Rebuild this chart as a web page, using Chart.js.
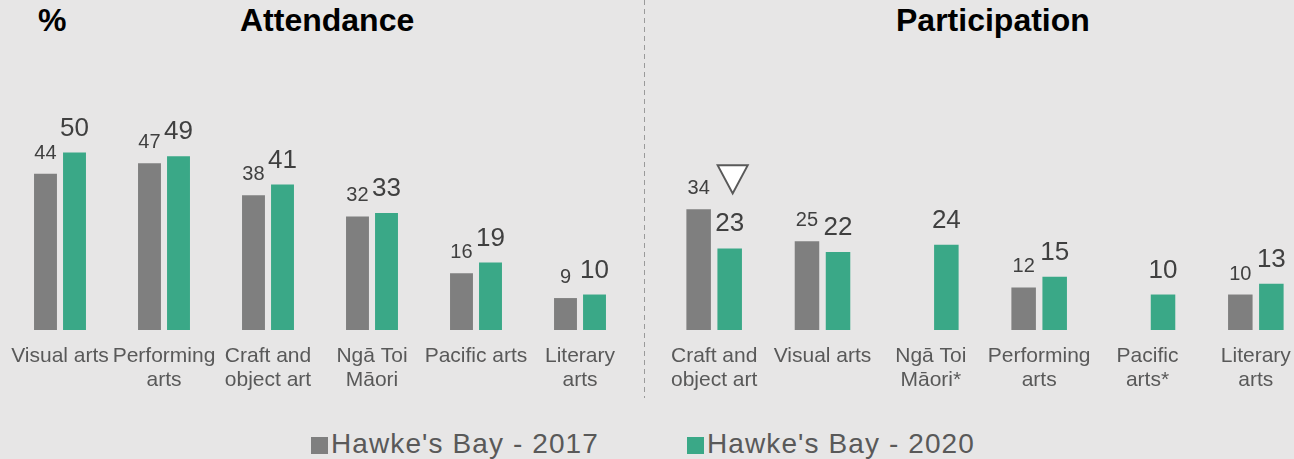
<!DOCTYPE html>
<html>
<head>
<meta charset="utf-8">
<script src="https://cdn.jsdelivr.net/npm/chart.js@4.4.1/dist/chart.umd.min.js"></script>
<style>
  html, body { margin: 0; padding: 0; }
  body { width: 1294px; height: 459px; background: #e7e6e6; position: relative; overflow: hidden;
    font-family: "Liberation Sans", Arial, sans-serif; }
  .title { position: absolute; top: 2px; font-weight: bold; font-size: 32px; color: #000; white-space: nowrap; }
  #c-att { position: absolute; left: 0; top: 0; }
  #c-par { position: absolute; left: 650px; top: 0; }
  .divider { position: absolute; left: 644px; top: 0; width: 1px; height: 398px;
    background: repeating-linear-gradient(to bottom, #9a9a9a 0, #9a9a9a 5px, transparent 5px, transparent 9px); }
  .legend { position: absolute; top: 428px; font-size: 28px; color: #595959; white-space: nowrap; letter-spacing: 1.1px; }
  .legend i { display: inline-block; width: 17px; height: 17px; margin-right: 3px; vertical-align: -1px; }
</style>
</head>
<body>
<div class="title" style="left:38px">%</div>
<div class="title" style="left:240px">Attendance</div>
<div class="title" style="left:896px">Participation</div>
<div class="divider"></div>
<canvas id="c-att" width="645" height="400"></canvas>
<canvas id="c-par" width="662" height="400"></canvas>
<div class="legend" style="left:311px"><i style="background:#7f7f7f"></i>Hawke's Bay - 2017</div>
<div class="legend" style="left:687px"><i style="background:#3aa887"></i>Hawke's Bay - 2020</div>
<script>
(function () {
  "use strict";

  /* ---------- Data ---------- */
  var ATT_LABELS = ["Visual arts", ["Performing", "arts"], ["Craft and", "object art"], ["Ngā Toi", "Māori"], "Pacific arts", ["Literary", "arts"]];
  var ATT_2017 = [44, 47, 38, 32, 16, 9];
  var ATT_2020 = [50, 49, 41, 33, 19, 10];

  var PAR_LABELS = [["Craft and", "object art"], "Visual arts", ["Ngā Toi", "Māori*"], ["Performing", "arts"], ["Pacific", "arts*"], ["Literary", "arts"]];
  var PAR_2017 = [34, 25, null, 12, null, 10];
  var PAR_2020 = [23, 22, 24, 15, 10, 13];
  // significant decrease since 2017
  var PAR_DOWN = [true, false, false, false, false, false];

  var SERIES = ["Hawke's Bay - 2017", "Hawke's Bay - 2020"];
  var GREY = "#7f7f7f", GREEN = "#3aa887", TEXT = "#595959", VALUE = "#404040";
  var FONT = "'Liberation Sans', Arial, sans-serif";

  /* ---------- Value labels above bars ---------- */
  var valueLabels = {
    id: "valueLabels",
    afterDatasetsDraw: function (chart) {
      var ctx = chart.ctx;
      chart.data.datasets.forEach(function (ds, i) {
        var meta = chart.getDatasetMeta(i);
        ctx.save();
        ctx.fillStyle = VALUE;
        ctx.font = (i === 0 ? "20px " : "26px ") + FONT;
        ctx.textAlign = "center";
        ctx.textBaseline = "alphabetic";
        meta.data.forEach(function (bar, j) {
          if (ds.data[j] == null) return;
          ctx.fillText(String(ds.data[j]), bar.x, bar.y - (i === 0 ? 15 : 17));
        });
        ctx.restore();
      });
    }
  };

  /* ---------- Down-triangle markers (participation only) ---------- */
  var downMarks = {
    id: "downMarks",
    afterDatasetsDraw: function (chart, args, opts) {
      if (!opts.flags) return;
      var ctx = chart.ctx;
      var g = chart.getDatasetMeta(0).data, n = chart.getDatasetMeta(1).data;
      opts.flags.forEach(function (on, j) {
        if (!on) return;
        var cx = n[j].x + 3, tip = g[j].y - 16, w = 30, h = 28;
        ctx.save();
        ctx.beginPath();
        ctx.moveTo(cx - w / 2, tip - h);
        ctx.lineTo(cx + w / 2, tip - h);
        ctx.lineTo(cx, tip);
        ctx.closePath();
        ctx.fillStyle = "#ffffff";
        ctx.fill();
        ctx.lineWidth = 2;
        ctx.strokeStyle = TEXT;
        ctx.stroke();
        ctx.restore();
      });
    }
  };

  function makeChart(id, labels, a, b, pad, catPct, flags) {
    return new Chart(document.getElementById(id), {
      type: "bar",
      data: {
        labels: labels,
        datasets: [
          { label: SERIES[0], data: a, backgroundColor: GREY, categoryPercentage: catPct, barPercentage: 0.79 },
          { label: SERIES[1], data: b, backgroundColor: GREEN, categoryPercentage: catPct, barPercentage: 0.79 }
        ]
      },
      options: {
        responsive: false,
        animation: false,
        layout: { padding: { left: pad[0], right: pad[1], top: 0, bottom: 0 } },
        plugins: {
          legend: { display: false },
          tooltip: { enabled: false },
          downMarks: { flags: flags }
        },
        scales: {
          x: {
            grid: { display: false, drawTicks: false },
            border: { display: false },
            ticks: { color: TEXT, padding: 14, autoSkip: false, maxRotation: 0, font: { family: FONT, size: 21, lineHeight: 1.15 } },
            // fixed axis height; let layout padding alone set the plot's sides
            afterFit: function (s) { s.height = 70; s.paddingLeft = 0; s.paddingRight = 0; }
          },
          y: { display: false, min: 0, max: 93 }
        }
      },
      plugins: [valueLabels, downMarks]
    });
  }

  makeChart("c-att", ATT_LABELS, ATT_2017, ATT_2020, [8, 13], 0.558, null);
  makeChart("c-par", PAR_LABELS, PAR_2017, PAR_2020, [10, 2], 0.573, PAR_DOWN);
})();
</script>
</body>
</html>
